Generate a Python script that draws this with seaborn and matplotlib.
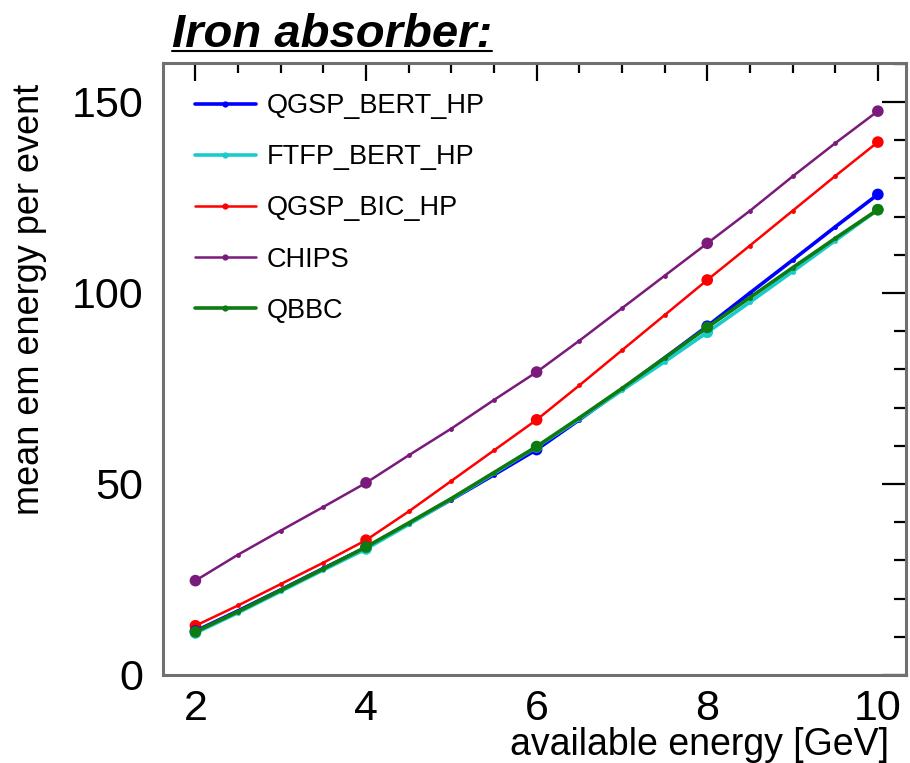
import matplotlib
matplotlib.use("Agg")
import matplotlib.pyplot as plt
import seaborn as sns
import pandas as pd
from matplotlib.lines import Line2D
from matplotlib.ticker import MultipleLocator

# ---------------- data ----------------
energy = [2.0, 2.5, 3.0, 3.5, 4.0, 4.5, 5.0, 5.5, 6.0, 6.5, 7.0, 7.5, 8.0, 8.5, 9.0, 9.5, 10.0]
qgsp_bert_hp = [11.5, 16.8, 22.3, 27.9, 33.4, 39.6, 45.9, 52.4, 59.0, 66.8, 74.8, 83.0, 91.3, 100.0, 108.6, 117.3, 125.8]
ftfp_bert_hp = [11.0, 16.3, 21.9, 27.5, 33.0, 39.4, 46.0, 52.8, 59.7, 67.0, 74.5, 82.0, 89.7, 97.6, 105.6, 113.7, 121.8]
qgsp_bic_hp = [12.9, 18.2, 23.8, 29.4, 35.3, 42.8, 50.8, 58.8, 66.8, 75.8, 85.0, 94.2, 103.4, 112.4, 121.5, 130.6, 139.5]
chips = [24.7, 31.5, 37.8, 44.0, 50.3, 57.5, 64.5, 72.0, 79.3, 87.5, 96.0, 104.5, 113.0, 121.5, 130.5, 139.2, 147.6]
qbbc = [11.3, 16.6, 22.2, 27.8, 33.5, 39.8, 46.2, 53.0, 59.8, 67.3, 75.0, 83.0, 91.0, 98.8, 106.6, 114.3, 121.8]

models = ["QGSP_BERT_HP", "FTFP_BERT_HP", "QGSP_BIC_HP", "CHIPS", "QBBC"]
series = [qgsp_bert_hp, ftfp_bert_hp, qgsp_bic_hp, chips, qbbc]
node_energies = [2.0, 4.0, 6.0, 8.0, 10.0]

title_text = "Iron absorber:"
xlabel_text = "available energy [GeV]"
ylabel_text = "mean em energy per event"

# ---------------- styling ----------------
colors = {"QGSP_BERT_HP": "#0000ff", "FTFP_BERT_HP": "#19cccc",
          "QGSP_BIC_HP": "#ff0000", "CHIPS": "#7a1a7a", "QBBC": "#0f7a0f"}
widths = {"QGSP_BERT_HP": 2.6, "FTFP_BERT_HP": 2.6, "QGSP_BIC_HP": 1.8,
          "CHIPS": 1.8, "QBBC": 2.6}
draw_order = ["CHIPS", "QGSP_BIC_HP", "QGSP_BERT_HP", "FTFP_BERT_HP", "QBBC"]

sns.set_style("white")
plt.rcParams["font.family"] = ["Liberation Sans", "DejaVu Sans"]
plt.rcParams["text.color"] = "black"
plt.rcParams["xtick.color"] = "black"
plt.rcParams["ytick.color"] = "black"
plt.rcParams["xtick.labelcolor"] = "black"
plt.rcParams["ytick.labelcolor"] = "black"

rows = []
for m, vals in zip(models, series):
    for e, v in zip(energy, vals):
        rows.append({"model": m, "energy": e, "value": v})
df = pd.DataFrame(rows)

W, H = 910, 763
fig = plt.figure(figsize=(W / 100, H / 100), dpi=100)
left_px, right_px, top_px, bottom_px = 163, 906, 63, 675
ax = fig.add_axes([left_px / W, 1 - bottom_px / H,
                   (right_px - left_px) / W, (bottom_px - top_px) / H])

for z, m in enumerate(draw_order):
    sub = df[df["model"] == m]
    sns.lineplot(data=sub, x="energy", y="value", color=colors[m],
                 linewidth=widths[m], marker="o", markersize=3.5,
                 markeredgewidth=0, errorbar=None, legend=False, ax=ax,
                 zorder=3 + z)
    nodes = sub[sub["energy"].isin(node_energies)]
    sns.scatterplot(data=nodes, x="energy", y="value", color=colors[m],
                    s=70, edgecolor="none", legend=False, ax=ax, zorder=3 + z)

ax.set_xlim(1.62, 10.33)
ax.set_ylim(0, 160.2)
ax.xaxis.set_major_locator(MultipleLocator(2))
ax.xaxis.set_minor_locator(MultipleLocator(0.5))
ax.yaxis.set_major_locator(MultipleLocator(50))
ax.yaxis.set_minor_locator(MultipleLocator(10))
ax.tick_params(axis="both", which="both", direction="in", top=True,
               right=True, width=1.6, color="black", labelsize=31,
               labelcolor="black")
ax.tick_params(axis="x", which="major", length=13, pad=10)
ax.tick_params(axis="x", which="minor", length=7)
ax.tick_params(axis="y", which="major", length=17, pad=14)
ax.tick_params(axis="y", which="minor", length=9)
for sp in ax.spines.values():
    sp.set_color("#707070")
    sp.set_linewidth(2.2)
ax.set_xlabel("")
ax.set_ylabel("")

# legend
handles = [Line2D([0], [0], color=colors[m], lw=widths[m], marker="o",
                  markersize=4.5, markeredgewidth=0) for m in models]
ax.legend(handles, models, loc="upper left",
          bbox_to_anchor=((195 - left_px) / (right_px - left_px),
                          1 - (93 - top_px) / (bottom_px - top_px)),
          frameon=False, fontsize=19.5, handlelength=2.25, handletextpad=0.4,
          labelspacing=0.93, borderpad=0, borderaxespad=0)

# titles
t = fig.text(172 / W, 1 - 47 / H, title_text, fontsize=34, fontweight="bold",
             fontstyle="italic", ha="left", va="baseline")
fig.canvas.draw()
bb = t.get_window_extent(renderer=fig.canvas.get_renderer())
fig.add_artist(Line2D([bb.x0 / W, bb.x1 / W], [1 - 51 / H, 1 - 51 / H],
                      color="black", lw=1.5))
fig.text(889 / W, 1 - 745 / H, xlabel_text, fontsize=27, ha="right",
         va="center")
fig.text(30 / W, 1 - 84 / H, ylabel_text, fontsize=26, rotation=90,
         ha="center", va="top")

fig.savefig("out.png", dpi=100, facecolor="white")
